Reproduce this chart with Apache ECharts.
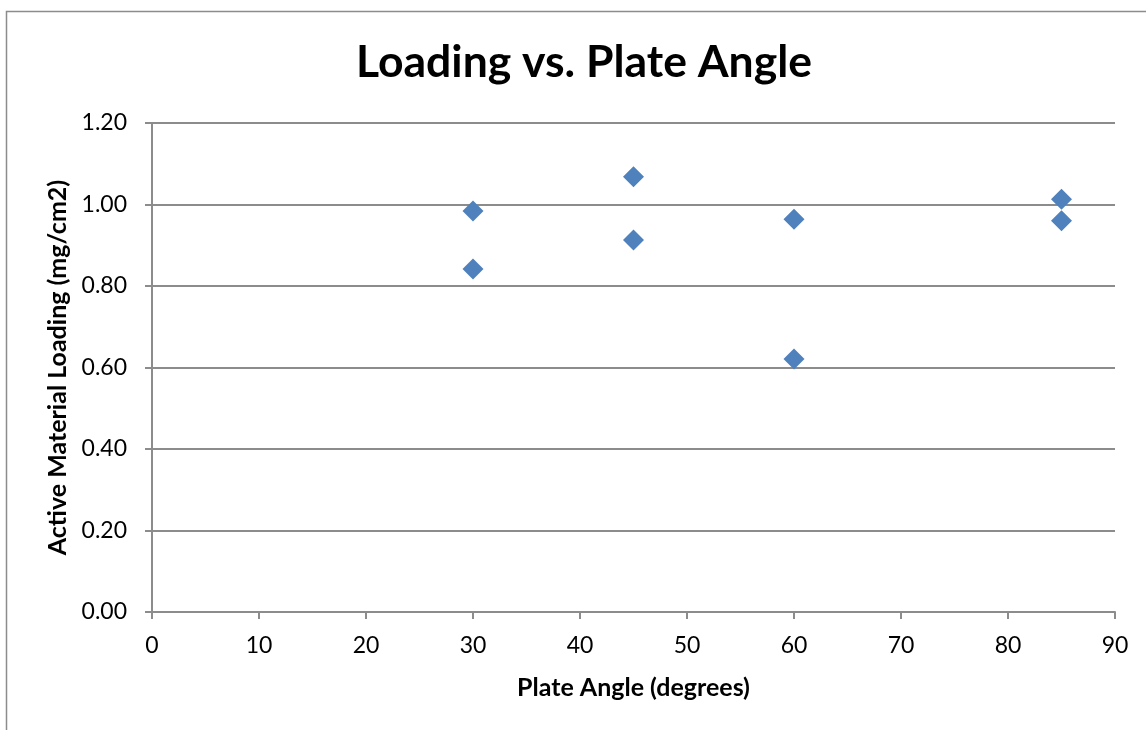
<!DOCTYPE html>
<html>
<head>
<meta charset="utf-8">
<script src="https://cdn.jsdelivr.net/npm/echarts@6/dist/echarts.min.js"></script>
<style>
  html, body { margin: 0; padding: 0; background: #fff; }
  #chart { width: 1146px; height: 730px; }
</style>
</head>
<body>
<div id="chart"></div>
<script>
// Plate angle (degrees) and measured active material loading (mg/cm2)
const plateAngles = [30, 30, 45, 45, 60, 60, 85, 85];
const loadings = [0.984, 0.842, 1.068, 0.913, 0.964, 0.621, 1.013, 0.960];

const points = plateAngles.map((a, i) => [a, loadings[i]]);

const FONT = 'Lato, "Open Sans", sans-serif';
const chart = echarts.init(document.getElementById('chart'), null, { renderer: 'canvas' });

chart.setOption({
  backgroundColor: '#ffffff',
  animation: false,
  title: {
    text: 'Loading vs. Plate Angle',
    left: 351,
    top: 35,
    textStyle: { fontFamily: FONT, fontSize: 44.5, fontWeight: 'bold', color: '#000' }
  },
  graphic: [{
    type: 'rect',
    shape: { x: 6.5, y: 11.5, width: 1300, height: 900 },
    style: { fill: 'none', stroke: '#8c8c8c', lineWidth: 1.5 },
    silent: true
  }],
  grid: { left: 152, right: 31, top: 123, bottom: 118 },
  xAxis: {
    type: 'value',
    min: 0, max: 90, interval: 10,
    name: 'Plate Angle (degrees)',
    nameLocation: 'middle',
    nameGap: 63,
    nameTextStyle: { fontFamily: FONT, fontSize: 25, fontWeight: 'bold', color: '#000' },
    axisLine: { show: true, lineStyle: { color: '#8c8c8c', width: 2 } },
    axisTick: { show: true, length: 7, lineStyle: { color: '#8c8c8c', width: 2 } },
    axisLabel: { fontFamily: FONT, fontSize: 23, color: '#000', margin: 22 },
    splitLine: { show: false }
  },
  yAxis: {
    type: 'value',
    min: 0, max: 1.2, interval: 0.2,
    name: 'Active Material Loading (mg/cm2)',
    nameLocation: 'middle',
    nameGap: 79,
    nameTextStyle: { fontFamily: FONT, fontSize: 25, fontWeight: 'bold', color: '#000' },
    axisLine: { show: true, lineStyle: { color: '#8c8c8c', width: 2 } },
    axisTick: { show: true, length: 7, lineStyle: { color: '#8c8c8c', width: 2 } },
    axisLabel: { fontFamily: FONT, fontSize: 23, color: '#000', margin: 25, formatter: v => v.toFixed(2) },
    splitLine: { show: true, lineStyle: { color: '#8c8c8c', width: 2 } }
  },
  series: [{
    type: 'scatter',
    data: points,
    symbol: 'diamond',
    symbolSize: [21, 21],
    itemStyle: { color: '#4f81bd', opacity: 1 }
  }]
});
</script>
</body>
</html>
